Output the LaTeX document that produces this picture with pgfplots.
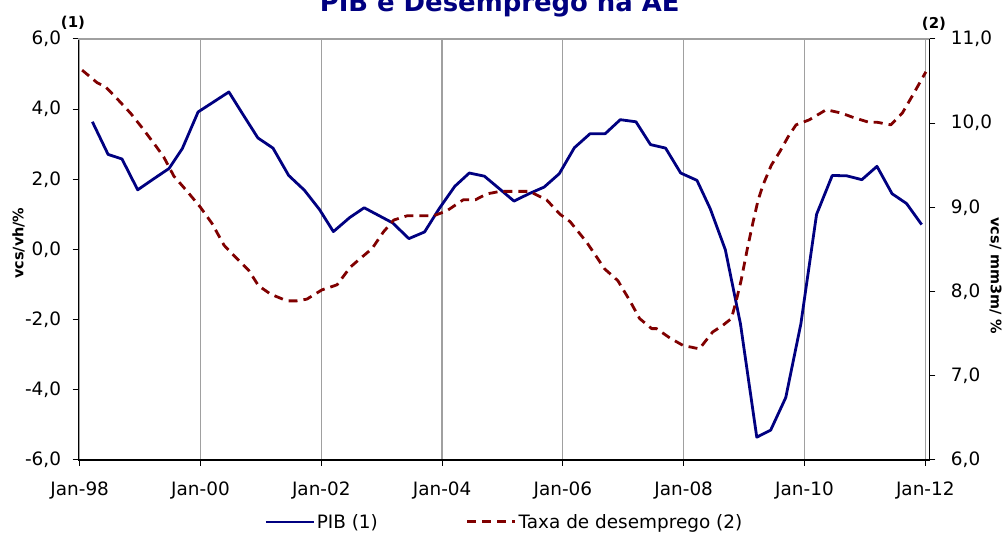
\documentclass[border=0pt]{standalone}
\usepackage{pgfplots}
\pgfplotsset{compat=1.18}
\usepackage{fontspec}
\setmainfont{DejaVu Sans}
\definecolor{pibblue}{RGB}{0,0,128}
\definecolor{unred}{RGB}{128,0,0}
\definecolor{gridgray}{RGB}{160,160,160}
\begin{document}
\begin{tikzpicture}
\pgfplotsset{
  every axis/.append style={
    scale only axis, width=851bp, height=421bp,
    xmin=1997.98, xmax=2012.07,
    clip=false,
    tick align=outside, major tick length=6bp,
    tick style={black, line width=1bp},
    axis line style={-, black, line width=1.6bp},
    /pgf/number format/assume math mode=true,
    ticklabel style={font=\fontsize{18.5}{20}\selectfont},
  }
}
\begin{axis}[
  axis x line*=bottom, axis y line*=left,
  ymin=-6, ymax=6, ytick={-6,-4,...,6},
  xtick={1998,2000,...,2012},
  xticklabels={Jan-98,Jan-00,Jan-02,Jan-04,Jan-06,Jan-08,Jan-10,Jan-12},
  xticklabel style={yshift=-12bp},
  xmajorgrids, major grid style={gridgray, line width=1.2bp},
  yticklabel style={xshift=-8bp, /pgf/number format/.cd, fixed, fixed zerofill, precision=1, use comma},
  ylabel={vcs/vh/\%},
  ylabel style={at={(rel axis cs:0,0.515)}, anchor=center, yshift=60bp, font=\bfseries\fontsize{14.5}{15}\selectfont},
  title={PIB e Desemprego na AE},
  title style={at={(rel axis cs:0.495,1)}, anchor=base, yshift=22bp, font=\bfseries\fontsize{26}{28}\selectfont, text=pibblue},
]
\draw[gridgray, line width=1.2bp] (rel axis cs:0,1) -- (rel axis cs:1,1);
\addplot[pibblue, line width=2.8bp, line join=round] coordinates {
(1998.21,3.64)(1998.47,2.71)(1998.70,2.58)(1998.96,1.70)(1999.23,2.02)(1999.48,2.31)(1999.70,2.88)(1999.96,3.92)
(2000.22,4.21)(2000.47,4.49)(2000.71,3.83)(2000.95,3.18)(2001.20,2.89)(2001.46,2.11)(2001.72,1.69)(2001.97,1.14)
(2002.20,0.51)(2002.47,0.91)(2002.71,1.19)(2002.95,0.97)(2003.18,0.76)(2003.45,0.31)(2003.71,0.50)(2003.95,1.16)
(2004.21,1.80)(2004.45,2.18)(2004.70,2.09)(2004.95,1.73)(2005.19,1.38)(2005.44,1.59)(2005.69,1.78)(2005.94,2.16)
(2006.19,2.90)(2006.45,3.30)(2006.70,3.30)(2006.95,3.70)(2007.21,3.64)(2007.45,2.99)(2007.70,2.89)(2007.95,2.18)
(2008.22,1.97)(2008.44,1.16)(2008.69,-0.01)(2008.94,-2.12)(2009.21,-5.35)(2009.44,-5.15)(2009.69,-4.22)(2009.94,-2.12)
(2010.20,1.00)(2010.46,2.11)(2010.70,2.10)(2010.95,1.99)(2011.20,2.37)(2011.45,1.59)(2011.69,1.31)(2011.94,0.71)
};
\node[font=\bfseries\fontsize{15}{15}\selectfont, xshift=-5.5bp, yshift=16.5bp] at (rel axis cs:0,1) {(1)};
\node[font=\bfseries\fontsize{15}{15}\selectfont, xshift=4.5bp, yshift=15bp] at (rel axis cs:1,1) {(2)};
\coordinate (SW) at (rel axis cs:0,0);
\coordinate (NE) at (rel axis cs:1,1);
\end{axis}
\begin{axis}[
  axis y line*=right, axis x line=none,
  ymin=6, ymax=11, ytick={6,...,11},
  yticklabel style={xshift=12bp, /pgf/number format/.cd, fixed, fixed zerofill, precision=1, use comma},
  ylabel={vcs/ mm3m/ \%},
  ylabel style={at={(rel axis cs:1,0.437)}, anchor=center, rotate=180, yshift=66bp, font=\bfseries\fontsize{14.5}{15}\selectfont},
  legend columns=2,
  legend style={draw=none, fill=none, at={(0.5006,-0.147)}, anchor=center,
    font=\fontsize{18.5}{20}\selectfont,
    nodes={inner xsep=2bp, inner ysep=1bp},
    /tikz/every even column/.append style={column sep=86bp}},
  legend image code/.code={\draw[#1] (0bp,0bp) -- (48bp,0bp);},
]
\addlegendimage{pibblue, line width=2bp}
\addlegendentry{PIB (1)}
\addplot[unred, line width=2.8bp, dash pattern=on 9bp off 6bp, line join=round] coordinates {
(1998.04,10.63)(1998.29,10.48)(1998.43,10.43)(1998.62,10.29)(1998.84,10.12)(1999.04,9.94)(1999.26,9.73)(1999.39,9.60)
(1999.56,9.37)(1999.78,9.19)(2000.00,9.00)(2000.19,8.81)(2000.39,8.55)(2000.55,8.43)(2000.80,8.25)(2000.96,8.07)
(2001.16,7.97)(2001.43,7.89)(2001.60,7.89)(2001.76,7.91)(2002.01,8.02)(2002.26,8.08)(2002.48,8.29)(2002.64,8.39)
(2002.84,8.51)(2003.03,8.71)(2003.20,8.85)(2003.42,8.90)(2003.86,8.90)(2004.08,8.96)(2004.35,9.09)(2004.55,9.09)
(2004.74,9.16)(2004.96,9.19)(2005.45,9.19)(2005.56,9.15)(2005.73,9.09)(2005.95,8.92)(2006.12,8.83)(2006.39,8.59)
(2006.56,8.41)(2006.69,8.27)(2006.91,8.13)(2007.11,7.89)(2007.27,7.68)(2007.47,7.56)(2007.55,7.56)(2007.77,7.45)
(2007.99,7.36)(2008.26,7.32)(2008.48,7.52)(2008.65,7.60)(2008.79,7.68)(2008.87,7.89)(2008.95,8.13)(2009.06,8.53)
(2009.15,8.83)(2009.23,9.08)(2009.31,9.26)(2009.45,9.50)(2009.59,9.66)(2009.73,9.84)(2009.86,9.98)(2010.08,10.04)
(2010.36,10.16)(2010.61,10.12)(2010.80,10.07)(2011.07,10.01)(2011.21,10.01)(2011.43,9.98)(2011.62,10.12)(2011.79,10.33)
(2012.01,10.61)
};
\addlegendentry{Taxa de desemprego (2)}
\end{axis}
\pgfresetboundingbox
\path ([xshift=-78.5bp, yshift=-74bp]SW) rectangle ([xshift=75.5bp, yshift=39bp]NE);
\end{tikzpicture}
\end{document}
